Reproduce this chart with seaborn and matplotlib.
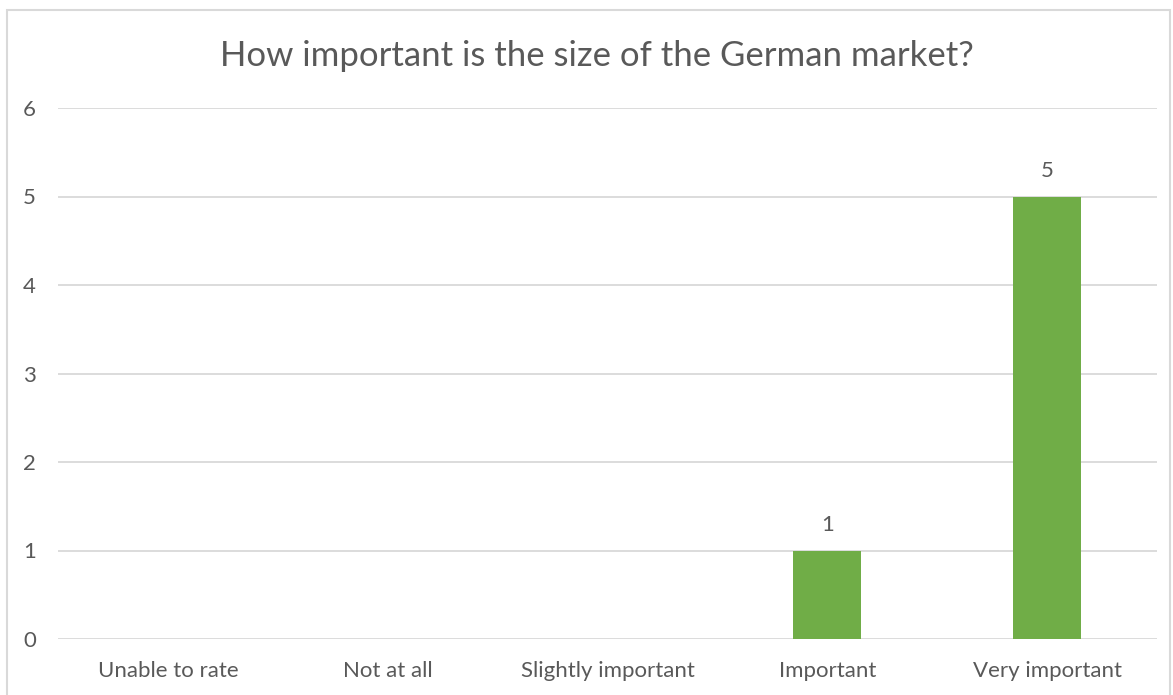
import matplotlib
matplotlib.use("Agg")
import matplotlib.pyplot as plt
from matplotlib.patches import Rectangle
import seaborn as sns
import pandas as pd

# Survey responses
categories = ["Unable to rate", "Not at all", "Slightly important", "Important", "Very important"]
counts = [0, 0, 0, 1, 5]
y_ticks = [0, 1, 2, 3, 4, 5, 6]
title = "How important is the size of the German market?"

df = pd.DataFrame({"category": categories, "count": counts})

sns.set_style("white")
plt.rcParams["font.family"] = ["Lato", "DejaVu Sans"]

text_color = "#595959"
grid_color = "#d9d9d9"
bar_color = "#70AD47"

W, H = 1173, 695
fig = plt.figure(figsize=(W / 100, H / 100), dpi=100)
ax = fig.add_axes([58 / W, 1 - 639 / H, (1157 - 58) / W, (639 - 108) / H])

sns.barplot(data=df, x="category", y="count", order=categories,
            color=bar_color, width=0.31, saturation=1, linewidth=0,
            ax=ax, zorder=3)

ax.set_xlim(-0.5, len(categories) - 0.5)
ax.set_ylim(0, 6)
ax.set_yticks(y_ticks)
ax.yaxis.grid(True, color=grid_color, linewidth=1.3, zorder=0)
ax.set_axisbelow(True)
for s in ax.spines.values():
    s.set_visible(False)
ax.set_xlabel("")
ax.set_ylabel("")
ax.tick_params(axis="y", length=0, pad=16, labelsize=16, labelcolor=text_color)
ax.tick_params(axis="x", length=0, pad=16, labelsize=16, labelcolor=text_color)

for i, v in enumerate(counts):
    if v > 0:
        ax.annotate(str(v), (i, v), xytext=(0, 11), textcoords="offset points",
                    ha="center", va="bottom", fontsize=16, color=text_color)

fig.text(597 / W, 1 - 56 / H, title, ha="center", va="center",
         fontsize=25, color=text_color)

# Chart frame
fig.patches.append(Rectangle((7 / W, -0.01), (1170 - 7) / W, 1 - 10 / H + 0.01,
                             transform=fig.transFigure, fill=False,
                             edgecolor=grid_color, linewidth=1.5))

fig.savefig("out.png", dpi=100, facecolor="white")
